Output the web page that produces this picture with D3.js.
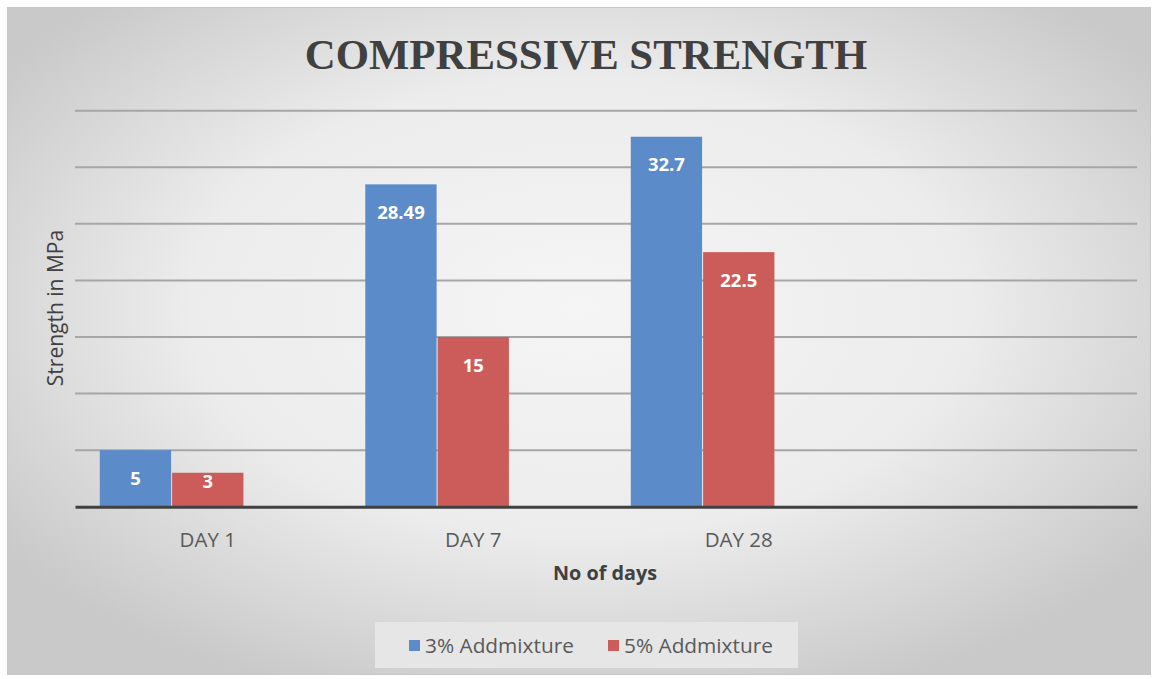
<!DOCTYPE html>
<html><head><meta charset="utf-8">
<script src="https://cdn.jsdelivr.net/npm/d3@7"></script>
<style>body{margin:0;background:#fff;}svg{display:block;}</style>
</head><body><svg id="c" width="1159" height="679"></svg>
<script>
const categories = ["DAY 1", "DAY 7", "DAY 28", ""];
const seriesNames = ["3% Addmixture", "5% Addmixture", ""];
const series3 = [5, 28.49, 32.7, null];
const series5 = [3, 15, 22.5, null];
const series3rd = [null, null, null, null];
const yTicks = [0, 5, 10, 15, 20, 25, 30, 35];
const colors = ["#5b8bc8", "#cc5c59", "none"];

const svg = d3.select("#c");
const W = 1159, H = 679;
const defs = svg.append("defs");
const rg = defs.append("radialGradient").attr("id","bg").attr("cx","50%").attr("cy","45%").attr("r","62%");
rg.append("stop").attr("offset","0%").attr("stop-color","#f5f5f5");
rg.append("stop").attr("offset","55%").attr("stop-color","#ececec");
rg.append("stop").attr("offset","100%").attr("stop-color","#c9c9c9");
svg.append("rect").attr("width",W).attr("height",H).attr("fill","#fff");
svg.append("rect").attr("x",7.5).attr("y",7.5).attr("width",1143).attr("height",667)
  .attr("fill","url(#bg)").attr("stroke","#c8c8c8").attr("stroke-width",1);

const x0 = d3.scaleBand().domain(categories.map((d,i)=>i)).range([75,1137]).paddingInner(0).paddingOuter(0);
const x1 = d3.scaleBand().domain([0,1,2]).range([0, x0.bandwidth()]).paddingOuter(0.336).paddingInner(0);
const y = d3.scaleLinear().domain([0,35]).range([506.7,110.7]);

const font = "'Open Sans', sans-serif";

// gridlines
const grid = svg.append("g").attr("class","grid");
grid.selectAll("line").data(yTicks.filter(d=>d>0)).join("line")
  .attr("x1",75).attr("x2",1137).attr("y1",d=>y(d)).attr("y2",d=>y(d))
  .attr("stroke","#a6a6a6").attr("stroke-width",2);

const all = [series3, series5, series3rd];
const g = svg.append("g");
all.forEach((s,si)=>{
  if(si===2) return;
  const bars = s.map((v,i)=>({v,i})).filter(d=>d.v!=null);
  g.selectAll(".b"+si).data(bars).join("rect")
    .attr("x",d=>x0(d.i)+x1(si)+0.5).attr("width",x1.bandwidth()-1)
    .attr("y",d=>y(d.v)).attr("height",d=>y(0)-y(d.v))
    .attr("fill",colors[si]);
  g.selectAll(".l"+si).data(bars).join("text")
    .attr("x",d=>x0(d.i)+x1(si)+x1.bandwidth()/2)
    .attr("y",d=>Math.min(y(d.v)+28, y(0)-25)).attr("dy","0.36em")
    .attr("text-anchor","middle").attr("fill","#fff")
    .attr("font-family",font).attr("font-weight","bold").attr("font-size",18.5)
    .text(d=>d.v);
});

// x axis
const xAxis = d3.axisBottom(x0).tickSize(0).tickFormat(i=>categories[i]);
const ax = svg.append("g").attr("transform",`translate(0,${y(0)})`).call(xAxis);
ax.select(".domain").attr("stroke","#404040").attr("stroke-width",3);
ax.selectAll("text").attr("font-family",font).attr("font-size",20.5)
  .attr("fill","#595959").attr("dy","0").attr("y",40);

// title
svg.append("text").attr("x",586).attr("y",69).attr("text-anchor","middle")
  .attr("font-family","'Liberation Serif','Times New Roman',serif").attr("font-weight","bold")
  .attr("font-size",42.8).attr("fill","#404040").text("COMPRESSIVE STRENGTH");

// axis titles
svg.append("text").attr("x",605).attr("y",580).attr("text-anchor","middle")
  .attr("font-family",font).attr("font-weight","bold").attr("font-size",19.8)
  .attr("fill","#404040").text("No of days");
svg.append("text").attr("transform","translate(63,308) rotate(-90)").attr("text-anchor","middle")
  .attr("font-family",font).attr("font-size",21).attr("fill","#404040")
  .text("Strength in MPa");

// legend
const lg = svg.append("g");
lg.append("rect").attr("x",375).attr("y",622).attr("width",423).attr("height",46).attr("fill","#e6e6e6");
const items = [{n:seriesNames[0],c:colors[0],x:409},{n:seriesNames[1],c:colors[1],x:608}];
items.forEach(it=>{
  lg.append("rect").attr("x",it.x).attr("y",640).attr("width",11).attr("height",11).attr("fill",it.c);
  lg.append("text").attr("x",it.x+16).attr("y",653).attr("font-family",font)
    .attr("font-size",20.8).attr("fill","#595959").text(it.n);
});
</script></body></html>
